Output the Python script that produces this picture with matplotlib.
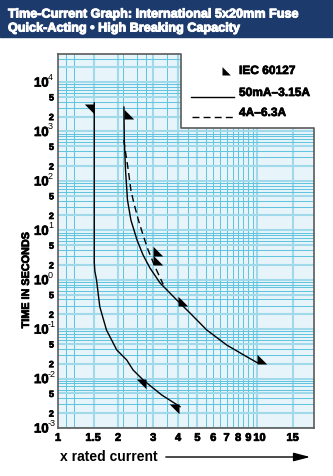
import matplotlib
matplotlib.use('Agg')
import matplotlib.pyplot as plt
from matplotlib import patheffects
from matplotlib.patches import Rectangle
from matplotlib.transforms import Affine2D, ScaledTranslation
from matplotlib.ticker import NullLocator

# time-current limits, x = multiple of rated current, t = seconds
# 50mA-3.15A, fast edge (solid)
low_x = [1.52, 1.52, 1.53, 1.56, 1.62, 1.75, 1.97, 2.21, 2.38, 2.67, 3.31, 4.09]
low_t = [3800, 2.2, 1.5, 0.99, 0.284, 0.096, 0.038, 0.0238, 0.0149, 0.0094, 0.00466, 0.0027]
# 50mA-3.15A, slow edge (solid)
high_x = [2.14, 2.15, 2.18, 2.23, 2.32, 2.49, 2.67, 2.89, 3.25, 3.94, 4.59, 5.57, 7.01, 8.83, 10.1]
high_t = [3120, 670, 166, 41, 16.1, 6.36, 3.16, 1.73, 0.857, 0.389, 0.212, 0.0961, 0.0478, 0.0277, 0.0204]
# 4A-6.3A, slow edge (dashed)
big_x = [2.135, 2.25, 2.32, 2.40, 2.53, 2.67, 2.83, 3.06, 3.37]
big_t = [670, 166, 65, 35.6, 16.1, 8.0, 4.0, 1.85, 0.80]

# IEC 60127 gate points
max_x = [2.13, 3.0, 3.0, 4.0, 10.0]
max_t = [1750, 3.0, 2.0, 0.3, 0.02]
min_x = [1.52, 2.75, 4.05]
min_t = [3600, 0.01, 0.003]

x_ticks = [1, 1.5, 2, 3, 4, 5, 6, 7, 8, 9, 10, 15]
x_labels = ['1', '1.5', '2', '3', '4', '5', '6', '7', '8', '9', '10', '15']
x_grid = [1.1, 1.2, 1.52, 2, 2.12, 2.5, 2.75, 3, 3.5, 4, 4.5, 5, 5.5, 6, 6.5,
          7, 7.5, 8, 8.5, 9, 9.5, 10, 15]
x_grid_bold = [1.52, 2, 3, 4, 5, 10, 15]
decades = list(range(-3, 5))

legend_labels = ['IEC 60127', '50mA\u20133.15A', '4A\u20136.3A']
title1 = 'Time-Current Graph: International 5x20mm Fuse'
title2 = 'Quick-Acting \u2022 High Breaking Capacity'

navy = '#1c3a6c'
grid_c = '#62c4de'
grid_light = '#9fd9ea'
face = '#e7f5fa'
frame = '#5a5a5a'

plt.rcParams['font.family'] = ['Liberation Sans', 'DejaVu Sans']

fig = plt.figure(figsize=(3.33, 4.76), dpi=100)
px = Affine2D().scale(1 / 333, -1 / 476).translate(0, 1) + fig.transFigure
heavy = [patheffects.withStroke(linewidth=0.5, foreground='black')]

# title banner
fig.add_artist(Rectangle((0, 1 - 37 / 476), 1, 37 / 476, transform=fig.transFigure,
                         color=navy, zorder=0))
stroke = [patheffects.withStroke(linewidth=0.7, foreground='white')]
for txt, yb in [(title1, 17.5), (title2, 31.5)]:
    fig.text(8, yb, txt, transform=px, color='white', fontsize=9.1, fontweight='bold',
             va='baseline', path_effects=stroke)

ax = fig.add_axes([58 / 333, 48 / 476, 256 / 333, 374 / 476])
xmin, xmax = 1, 19.2
ymin, ymax = 1e-3, 3.7e4
notch_x, notch_t = 4.15, 1170
ax.set_xscale('log')
ax.set_yscale('log')
ax.set_xlim(xmin, xmax)
ax.set_ylim(ymin, ymax)
ax.set_facecolor(face)

for x in x_grid:
    if x in x_grid_bold:
        ax.axvline(x, color=grid_light, lw=1.5, zorder=1)
    else:
        ax.axvline(x, color=grid_c, lw=0.75, zorder=1)
for d in decades:
    for k in range(1, 10):
        v = k * 10.0 ** d
        if v > ymax:
            continue
        if k in (1, 2, 5):
            ax.axhline(v, color=grid_light, lw=1.5, zorder=1)
        else:
            ax.axhline(v, color=grid_c, lw=0.75, zorder=1)

# white notch for the legend
ax.add_patch(Rectangle((notch_x, notch_t), xmax - notch_x, ymax - notch_t,
                       facecolor='white', edgecolor='none', zorder=2))

for s in ['top', 'right']:
    ax.spines[s].set_visible(False)
for s in ['left', 'bottom']:
    ax.spines[s].set_color(frame)
    ax.spines[s].set_linewidth(1.2)
ax.plot([xmin, notch_x, notch_x, xmax, xmax], [ymax, ymax, notch_t, notch_t, ymin],
        color=frame, lw=1.2, clip_on=False, zorder=3)

ax.plot(low_x, low_t, color='black', lw=1.0, zorder=4)
ax.plot(high_x, high_t, color='black', lw=1.0, zorder=4)
ax.plot(big_x, big_t, color='black', lw=1.0, dashes=(5, 3), zorder=4)

max_marker = [(0, 0), (1, 0), (0, 1), (0, 0)]
min_marker = [(0, 0), (-1, 0), (0, -1), (0, 0)]
ax.plot(max_x, max_t, ls='none', marker=max_marker, ms=14, color='black', mew=0, zorder=5)
ax.plot(min_x, min_t, ls='none', marker=min_marker, ms=14, color='black', mew=0, zorder=5)

# ticks
ax.set_xticks(x_ticks, x_labels)
ax.xaxis.set_minor_locator(NullLocator())
ax.set_yticks([10.0 ** d for d in decades], ['10'] * len(decades))
minor_v = []
minor_l = []
for d in decades[:-1]:
    for k in (2, 5):
        minor_v.append(k * 10.0 ** d)
        minor_l.append(str(k))
ax.set_yticks(minor_v, minor_l, minor=True)
ax.tick_params(axis='y', which='major', length=0, pad=17.3, labelsize=9.5)
ax.tick_params(axis='y', which='minor', length=0, pad=3, labelsize=6.5)
ax.tick_params(axis='x', length=0, pad=3.5, labelsize=8)
for lbl in ax.get_yticklabels() + ax.get_yticklabels(minor=True) + ax.get_xticklabels():
    lbl.set_fontweight('bold')
    lbl.set_path_effects(heavy)
for lbl in ax.get_yticklabels():
    lbl.set_horizontalalignment('left')
# exponents of the decade labels
exp_tr = ax.get_yaxis_transform() + ScaledTranslation(-0.10, 0.045, fig.dpi_scale_trans)
for d in decades:
    ax.text(0, 10.0 ** d, str(d), transform=exp_tr, ha='left', va='center', fontsize=6.5)
# the "10" label sits a little right of its line, as in the print
lbl10 = ax.get_xticklabels()[10]
lbl10.set_transform(lbl10.get_transform() + ScaledTranslation(0.02, 0, fig.dpi_scale_trans))

fig.text(26, 280, 'TIME IN SECONDS', transform=px, rotation=90, ha='center', va='center',
         fontsize=7.8, fontweight='bold', path_effects=heavy)
fig.text(60, 461, 'x rated current', transform=px, fontsize=10, fontweight='bold',
         va='baseline')
ax.annotate('', xy=(313, 457), xytext=(163, 457), xycoords=px, textcoords=px,
            arrowprops=dict(arrowstyle='-|>,head_length=0.5,head_width=0.13',
                            mutation_scale=20, color='black', lw=1.0))

# legend in the notch
ax.plot([222], [75], transform=px, marker=max_marker, ms=12, color='black', mew=0,
        clip_on=False, zorder=6)
ax.plot([191, 234], [96.5, 96.5], transform=px, color='black', lw=1.0, clip_on=False, zorder=6)
ax.plot([192, 234], [117, 117], transform=px, color='black', lw=1.0, dashes=(5, 3),
        clip_on=False, zorder=6)
for txt, yc in zip(legend_labels, [71, 93, 113]):
    fig.text(239, yc, txt, transform=px, va='center', fontsize=8.6, fontweight='bold',
             path_effects=heavy)

fig.savefig('out.png', dpi=100)
